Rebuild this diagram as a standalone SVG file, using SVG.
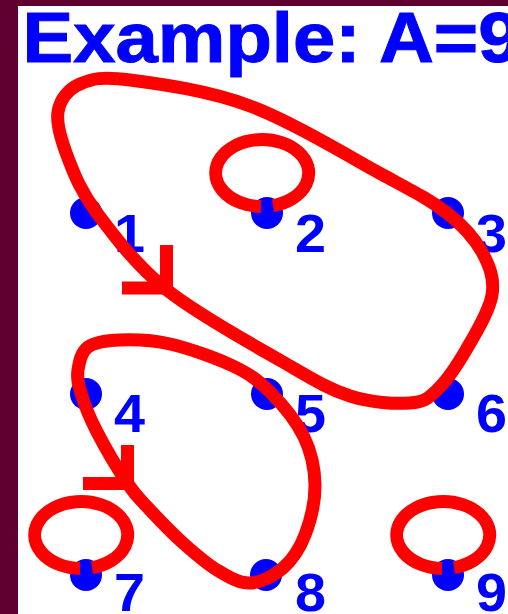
<svg xmlns="http://www.w3.org/2000/svg" width="508" height="614" viewBox="0 0 508 614">
<style>
.node{fill:#0000ff}
.lbl{font-family:"Liberation Sans",Arial,sans-serif;font-weight:bold;font-size:53px;fill:#0000ff}
.title{font-family:"Liberation Sans",Arial,sans-serif;font-weight:bold;font-size:70px;fill:#0000ff;stroke:#0000ff;stroke-width:1}
.edge{fill:none;stroke:#ff0000;stroke-width:13;stroke-linecap:butt;stroke-linejoin:miter}
</style>
<rect x="0" y="0" width="508" height="614" fill="#600030"/>
<rect x="18" y="6" width="490" height="608" fill="#ffffff"/>
<text class="title" x="22.5" y="62" textLength="498" lengthAdjust="spacingAndGlyphs">Example: A=9</text>
<g id="n1"><circle class="node" cx="86" cy="213" r="16"/><text class="lbl" x="114" y="252" textLength="31" lengthAdjust="spacingAndGlyphs">1</text></g>
<g id="n2"><circle class="node" cx="267" cy="213" r="16"/><text class="lbl" x="295" y="252" textLength="31" lengthAdjust="spacingAndGlyphs">2</text></g>
<g id="n3"><circle class="node" cx="448" cy="213" r="16"/><text class="lbl" x="476" y="252" textLength="31" lengthAdjust="spacingAndGlyphs">3</text></g>
<g id="n4"><circle class="node" cx="86" cy="394" r="16"/><text class="lbl" x="114" y="432" textLength="31" lengthAdjust="spacingAndGlyphs">4</text></g>
<g id="n5"><circle class="node" cx="267" cy="394" r="16"/><text class="lbl" x="295" y="432" textLength="31" lengthAdjust="spacingAndGlyphs">5</text></g>
<g id="n6"><circle class="node" cx="448" cy="394" r="16"/><text class="lbl" x="476" y="432" textLength="31" lengthAdjust="spacingAndGlyphs">6</text></g>
<g id="n7"><circle class="node" cx="86" cy="575" r="16"/><text class="lbl" x="114" y="611" textLength="31" lengthAdjust="spacingAndGlyphs">7</text></g>
<g id="n8"><circle class="node" cx="266" cy="575" r="16"/><text class="lbl" x="295" y="611" textLength="31" lengthAdjust="spacingAndGlyphs">8</text></g>
<g id="n9"><circle class="node" cx="448" cy="575" r="16"/><text class="lbl" x="476" y="611" textLength="31" lengthAdjust="spacingAndGlyphs">9</text></g>
<g id="connectors">
<path class="edge" d="M130 80 C158.3 83.7 207.8 90.2 250 106 C292.2 121.8 350.2 157.2 383 175 C415.8 192.8 430.5 200.2 447 213 C463.5 225.8 474.5 238.3 482 252 C489.5 265.7 494.7 278.7 492 295 C489.3 311.3 475.2 334.2 466 350 C456.8 365.8 446.3 381.2 437 390 C427.7 398.8 424.5 402 410 403 C395.5 404 371.2 402.8 350 396 C328.8 389.2 313.5 379.7 283 362 C252.5 344.3 198 314.8 167 290 C136 265.2 113.5 235 97 213 C80.5 191 74.5 174.8 68 158 C61.5 141.2 56 124.3 58 112 C60 99.7 68 89.3 80 84 C92 78.7 101.7 76.3 130 80 Z"/>
<path class="edge" d="M166.5 245 L166.5 288 L122 288"/>
<path class="edge" d="M120 340 C133.7 339.5 151.2 339.7 170 344 C188.8 348.3 216.3 358 233 366 C249.7 374 258.2 380.2 270 392 C281.8 403.8 296.5 421.5 304 437 C311.5 452.5 314.8 468.7 315 485 C315.2 501.3 310.3 521.2 305 535 C299.7 548.8 292.2 560 283 568 C273.8 576 261 582.7 250 583 C239 583.3 228.2 576.7 217 570 C205.8 563.3 194.2 553 183 543 C171.8 533 159.3 519.9 150 510 C140.8 500.1 136.5 496.8 127.5 483.5 C118.5 470.2 103.8 445.1 96 430 C88.3 414.9 84 403 81 393 C78 383 76.8 377.7 78 370 C79.2 362.3 81 352 88 347 C95 342 106.3 340.5 120 340 Z"/>
<path class="edge" d="M127.5 445 L127.5 483.5 L83 483.5"/>
<path class="edge" d="M273 205.6 A46.5 33.5 0 1 0 261 206.5"/>
<path class="edge" d="M92 567.6 A46.5 33.5 0 1 0 80 568.5"/>
<path class="edge" d="M454 567.6 A46.5 33.5 0 1 0 442 568.5"/>
</g>
</svg>
